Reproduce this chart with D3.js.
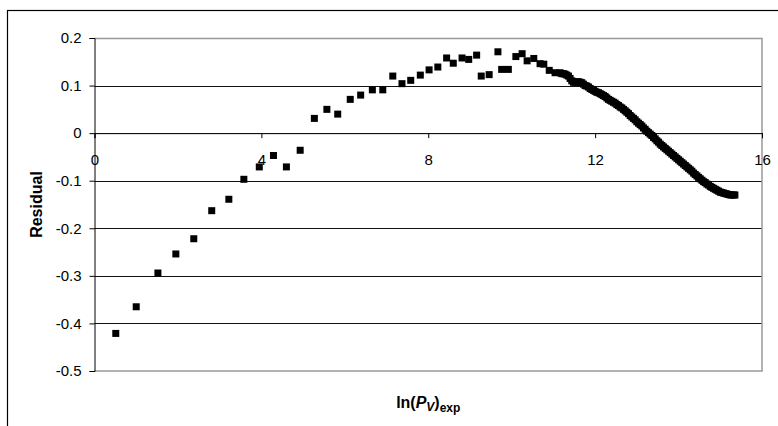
<!DOCTYPE html>
<html>
<head>
<meta charset="utf-8">
<script src="https://cdn.jsdelivr.net/npm/d3@7"></script>
<style>
  body { margin: 0; background: #fff; }
  svg { display: block; font-family: "Liberation Sans", Arial, sans-serif; }
</style>
</head>
<body>
<div id="chart"></div>
<script>
// residuals: scattered part, then the dense tail (x > 11.2)
const lnPv = [0.51, 1.00, 1.52, 1.95, 2.38, 2.81, 3.22, 3.58, 3.95, 4.29, 4.60, 4.93,
  5.27, 5.57, 5.83, 6.13, 6.38, 6.66, 6.91, 7.15, 7.37, 7.58, 7.81, 8.02, 8.23, 8.44,
  8.60, 8.81, 8.97, 9.16, 9.27, 9.46, 9.67, 9.76, 9.92, 10.10, 10.25, 10.37, 10.53,
  10.68, 10.77, 10.90, 11.04, 11.16];
const residual = [-0.421, -0.365, -0.294, -0.254, -0.222, -0.163, -0.139, -0.097, -0.071,
  -0.047, -0.071, -0.036, 0.031, 0.050, 0.040, 0.071, 0.080, 0.091, 0.091, 0.120, 0.104,
  0.111, 0.122, 0.133, 0.139, 0.158, 0.147, 0.158, 0.155, 0.164, 0.120, 0.123, 0.171,
  0.134, 0.134, 0.161, 0.167, 0.152, 0.157, 0.146, 0.145, 0.132, 0.127, 0.127];

const lnPvTail = [11.20, 11.24, 11.28, 11.32, 11.36, 11.40, 11.44, 11.48, 11.52, 11.56,
  11.60, 11.64, 11.68, 11.72, 11.76, 11.80, 11.84, 11.88, 11.92, 11.96, 12.00, 12.04,
  12.08, 12.12, 12.16, 12.20, 12.24, 12.28, 12.32, 12.36, 12.40, 12.44, 12.48, 12.52,
  12.56, 12.60, 12.64, 12.68, 12.72, 12.76, 12.80, 12.84, 12.88, 12.92, 12.96, 13.00,
  13.04, 13.08, 13.12, 13.16, 13.20, 13.24, 13.28, 13.32, 13.36, 13.40, 13.44, 13.48,
  13.52, 13.56, 13.60, 13.64, 13.68, 13.72, 13.76, 13.80, 13.84, 13.88, 13.92, 13.96,
  14.00, 14.04, 14.08, 14.12, 14.16, 14.20, 14.24, 14.28, 14.32, 14.36, 14.40, 14.44,
  14.48, 14.52, 14.56, 14.60, 14.64, 14.68, 14.72, 14.76, 14.80, 14.84, 14.88, 14.92,
  14.96, 15.00, 15.04, 15.08, 15.12, 15.16, 15.20, 15.24, 15.28, 15.32, 15.35];
const residualTail = [0.125, 0.125, 0.124, 0.122, 0.120, 0.115, 0.110, 0.107, 0.107, 0.108,
  0.108, 0.107, 0.106, 0.103, 0.100, 0.099, 0.097, 0.094, 0.092, 0.090, 0.088, 0.086,
  0.085, 0.083, 0.081, 0.079, 0.077, 0.074, 0.071, 0.069, 0.067, 0.065, 0.063, 0.060,
  0.058, 0.055, 0.053, 0.050, 0.047, 0.044, 0.041, 0.037, 0.034, 0.031, 0.028, 0.024,
  0.021, 0.018, 0.015, 0.011, 0.008, 0.004, 0.001, -0.002, -0.005, -0.009, -0.012, -0.016,
  -0.019, -0.023, -0.026, -0.029, -0.032, -0.035, -0.038, -0.041, -0.044, -0.047, -0.050, -0.053,
  -0.056, -0.059, -0.062, -0.065, -0.068, -0.071, -0.074, -0.077, -0.080, -0.084, -0.087, -0.090,
  -0.093, -0.096, -0.099, -0.102, -0.104, -0.107, -0.109, -0.112, -0.114, -0.116, -0.118, -0.120,
  -0.122, -0.124, -0.125, -0.126, -0.127, -0.128, -0.129, -0.130, -0.130, -0.130, -0.130];

const xTicks = [0, 4, 8, 12, 16];
const yTicks = [0.2, 0.1, 0, -0.1, -0.2, -0.3, -0.4, -0.5];

const W = 778, H = 426;
const margin = {top: 38, right: 16, bottom: 55, left: 94.5},
    width = W - margin.left - margin.right,
    height = H - margin.top - margin.bottom;

const svg = d3.select("#chart")
  .append("svg")
    .attr("width", W)
    .attr("height", H);

// outer chart border (right/bottom run off the picture)
svg.append("rect")
  .attr("x", 7.5).attr("y", 10.5)
  .attr("width", W + 20).attr("height", H + 20)
  .attr("fill", "none")
  .attr("stroke", "#000")
  .attr("stroke-width", 1.2);

const g = svg.append("g")
  .attr("transform", `translate(${margin.left},${margin.top})`);

const x = d3.scaleLinear().domain([0, 16]).range([0, width]);
const y = d3.scaleLinear().domain([-0.5, 0.2]).range([height, 0]);

// gridlines
g.append("g")
  .selectAll("line")
  .data(yTicks.filter(d => d > -0.5 && d < 0.2))
  .join("line")
    .attr("x1", 0).attr("x2", width)
    .attr("y1", d => Math.round(y(d)) + 0.5)
    .attr("y2", d => Math.round(y(d)) + 0.5)
    .attr("stroke", "#111");

// plot frame (top, right, bottom) in gray
g.append("path")
  .attr("d", `M0,0.5H${width}V${height}H0`)
  .attr("fill", "none")
  .attr("stroke", "#999")
  .attr("stroke-width", 1.5);

// y axis
const yAxis = g.append("g")
  .call(d3.axisLeft(y).tickValues(yTicks).tickSize(5).tickPadding(8)
    .tickFormat(d => String(+d.toFixed(1))));
yAxis.select(".domain").attr("stroke", "#000");
yAxis.selectAll("text")
  .attr("font-size", 15)
  .attr("font-family", "Liberation Sans, Arial, sans-serif")
  .attr("fill", "#000");

// x axis across y = 0
const xAxis = g.append("g")
  .attr("transform", `translate(0,${y(0)})`)
  .call(d3.axisBottom(x).tickValues(xTicks).tickSize(5).tickPadding(16));
xAxis.select(".domain").attr("stroke", "#111");
xAxis.selectAll("text")
  .attr("font-size", 15)
  .attr("font-family", "Liberation Sans, Arial, sans-serif")
  .attr("fill", "#000");

// markers
const data = lnPv.map((v, i) => ({x: v, y: residual[i]}))
  .concat(lnPvTail.map((v, i) => ({x: v, y: residualTail[i]})));
g.append("g")
  .selectAll("rect")
  .data(data)
  .join("rect")
    .attr("x", d => x(d.x) - 3.5)
    .attr("y", d => y(d.y) - 3.5)
    .attr("width", 7)
    .attr("height", 7)
    .attr("fill", "#000");

// axis titles
svg.append("text")
  .attr("transform", `translate(42,${margin.top + height / 2}) rotate(-90)`)
  .attr("text-anchor", "middle")
  .attr("font-size", 16)
  .attr("font-weight", "bold")
  .text("Residual");

const xt = svg.append("text")
  .attr("x", margin.left + width / 2)
  .attr("y", 408)
  .attr("text-anchor", "middle")
  .attr("font-size", 16)
  .attr("font-weight", "bold");
xt.append("tspan").text("ln(");
xt.append("tspan").attr("font-style", "italic").text("P");
xt.append("tspan").attr("font-style", "italic").attr("font-size", 12).attr("dy", 3).text("V");
xt.append("tspan").attr("dy", -3).text(")");
xt.append("tspan").attr("font-size", 12).attr("dy", 4).text("exp");
</script>
</body>
</html>
